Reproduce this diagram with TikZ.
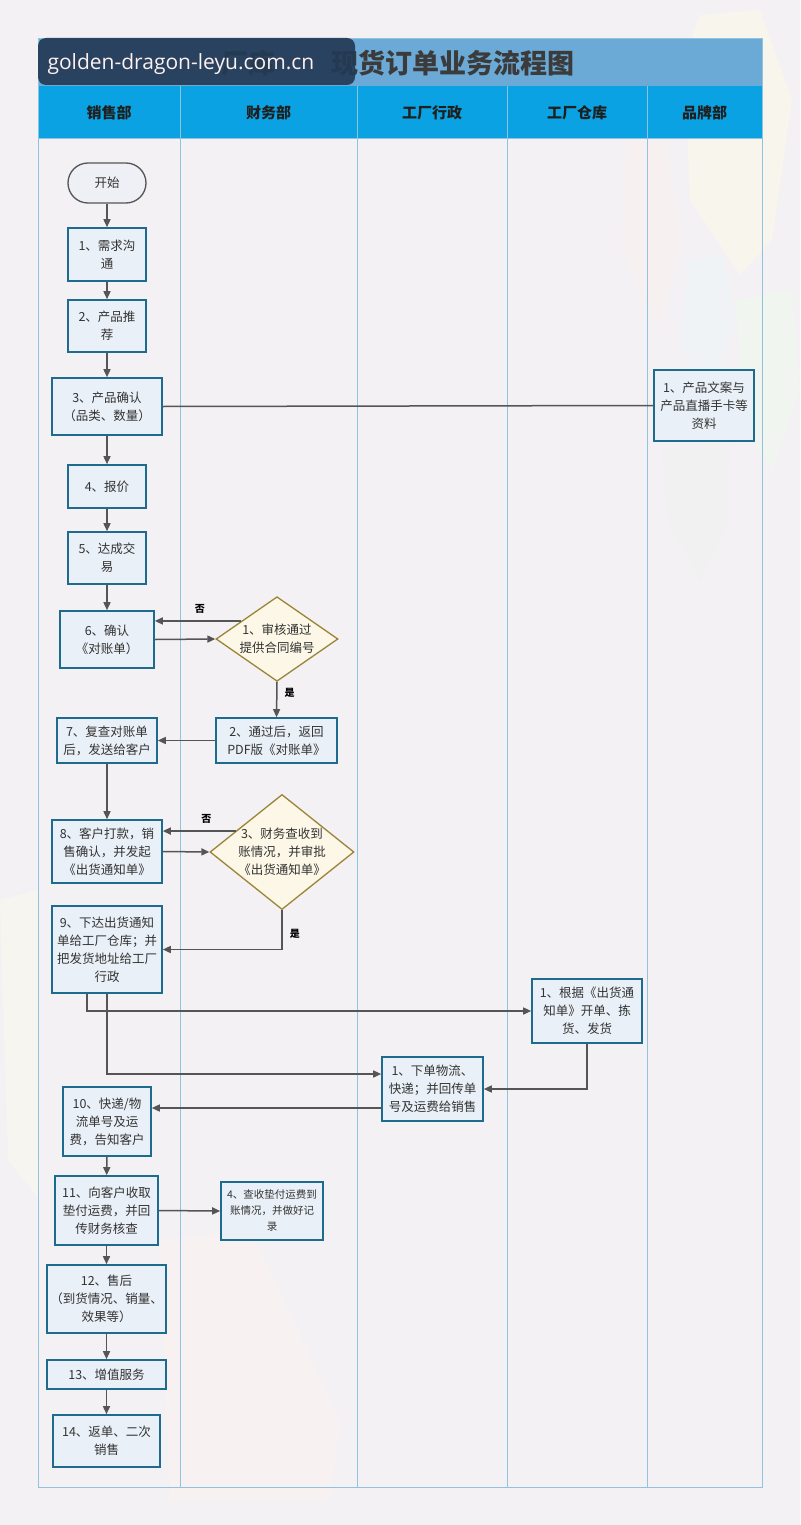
\documentclass[tikz,border=0pt]{standalone}
\usepackage{fontspec}
\setmainfont{Noto Sans CJK SC}
\newfontfamily\wmfont{Open Sans}
\usetikzlibrary{shapes.geometric,calc,arrows.meta}
\definecolor{bgc}{HTML}{F3F1F3}
\definecolor{lanec}{HTML}{8FC3DF}
\definecolor{titlec}{HTML}{6BAAD7}
\definecolor{headc}{HTML}{0AA2E2}
\definecolor{boxfill}{HTML}{EAF0F7}
\definecolor{boxline}{HTML}{1E6B8E}
\definecolor{decfill}{HTML}{FCF7E6}
\definecolor{decline}{HTML}{9B8438}
\definecolor{arrc}{HTML}{555555}
\definecolor{txt}{HTML}{333333}
\definecolor{wmc}{HTML}{233A55}

\begin{document}
\begin{tikzpicture}[x=1pt, y=-1pt,
    box/.style={draw=boxline, line width=1.6pt, fill=boxfill, align=center, text=txt,
                font=\fontsize{12.5}{18}\selectfont, inner sep=1pt},
    term/.style={box, draw=arrc, fill=boxfill!60!bgc, line width=1.3pt, rounded corners=20pt,
                 minimum width=78pt, minimum height=40pt},
    dec/.style={diamond, draw=decline, fill=decfill, line width=1.3pt, align=center, text=txt,
                font=\fontsize{12.5}{18}\selectfont, inner sep=-5pt},
    arr/.style={-{Triangle[length=8pt,width=7pt]}, line width=1.5pt, draw=arrc},
    plain/.style={line width=1.5pt, draw=arrc},
    yn/.style={font=\fontsize{10}{10}\selectfont\bfseries, text=black, inner sep=1pt},
    head/.style={font=\fontsize{15}{15}\selectfont\bfseries, text=black!88},
    deco/.style={fill opacity=0.35}
]
\useasboundingbox (0,0) rectangle (800,1525);
\fill[bgc] (0,0) rectangle (800,1525);

\fill[deco, yellow!12] (700,15) -- (760,10) -- (792,100) -- (772,240) -- (740,275) -- (690,200) -- (684,60) -- cycle;
\fill[deco, red!6] (628,130) -- (665,140) -- (682,240) -- (660,330) -- (622,250) -- cycle;
\fill[deco, cyan!8] (690,260) -- (722,255) -- (736,320) -- (706,400) -- (680,340) -- cycle;
\fill[deco, green!8] (735,300) -- (792,290) -- (800,390) -- (772,470) -- (745,430) -- cycle;
\fill[deco, black!5] (662,450) -- (730,440) -- (726,530) -- (700,580) -- (668,520) -- cycle;
\fill[deco, yellow!8] (0,900) -- (38,890) -- (40,1200) -- (8,1160) -- cycle;
\fill[deco, red!5] (160,1240) -- (250,1230) -- (340,1420) -- (330,1500) -- (170,1500) -- cycle;

\fill[titlec] (38,38) rectangle (762,86);
\fill[headc] (38,86) rectangle (762,138);
\draw[lanec, line width=0.9pt] (38,38) rectangle (762,1487);
\draw[lanec, line width=0.9pt] (38,138) -- (762,138);
\foreach \x in {180,357,507,647}
    \draw[lanec, line width=0.9pt] (\x,86) -- (\x,1487);

\foreach \x/\name/\lab in {109/h1/销售部, 268.5/h2/财务部, 432/h3/工厂行政, 577/h4/工厂仓库, 704.5/h5/品牌部}
    \node[head] (\name) at (\x,113) {\lab};

\node[anchor=west, font=\fontsize{27}{30}\selectfont\bfseries, text=black!77] (tt0) at (218,63) {厂库};
\node[anchor=west, font=\fontsize{27}{30}\selectfont\bfseries, text=black!77] (tt) at (328,63) {现货订单业务流程图};
\fill[wmc, opacity=0.92, rounded corners=8pt] (38,38) rectangle (355,85);
\node[anchor=west, font=\wmfont\fontsize{21}{24}\selectfont, text=red!6] (wm) at (44,64) {golden-dragon-leyu.com.cn};

\node[term] (st) at (107,183) {开始};
\node[box, minimum width=78pt, minimum height=53pt] (s1) at (107,254.5) {1、需求沟\\通};
\node[box, minimum width=78pt, minimum height=52pt] (s2) at (107,326) {2、产品推\\荐};
\node[box, minimum width=110pt, minimum height=57pt] (s3) at (107,406.5) {3、产品确认\\（品类、数量）};
\node[box, minimum width=78pt, minimum height=43pt] (s4) at (107,486.5) {4、报价};
\node[box, minimum width=78pt, minimum height=52pt] (s5) at (107,558) {5、达成交\\易};
\node[box, minimum width=94pt, minimum height=57pt] (s6) at (107,639.5) {6、确认\\《对账单）};
\node[box, minimum width=100pt, minimum height=45pt] (s7) at (107,740.5) {7、复查对账单\\后，发送给客户};
\node[box, minimum width=110pt, minimum height=63pt] (s8) at (107,851.5) {8、客户打款，销\\售确认，并发起\\《出货通知单》};
\node[box, minimum width=110pt, minimum height=87pt] (s9) at (107,949.5) {9、下达出货通知\\单给工厂仓库；并\\把发货地址给工厂\\行政};
\node[box, minimum width=88pt, minimum height=69pt] (s10) at (107,1121.5) {10、快递/物\\流单号及运\\费，告知客户};
\node[box, minimum width=103pt, minimum height=69pt] (s11) at (106.5,1210.5) {11、向客户收取\\垫付运费，并回\\传财务核查};
\node[box, minimum width=119pt, minimum height=68pt] (s12) at (106.5,1299) {12、售后\\（到货情况、销量、\\效果等）};
\node[box, minimum width=119pt, minimum height=29pt] (s13) at (106.5,1374.5) {13、增值服务};
\node[box, minimum width=107pt, minimum height=52pt] (s14) at (106.5,1441) {14、返单、二次\\销售};

\node[dec, minimum width=122pt, minimum height=82pt] (d1) at (277,639) {1、审核通过\\提供合同编号};
\node[box, minimum width=121pt, minimum height=45pt] (f2) at (276.5,740.5) {2、通过后，返回\\PDF版《对账单》};
\node[dec, minimum width=144pt, minimum height=112pt] (d3) at (282,852) {3、财务查收到\\账情况，并审批\\《出货通知单》};
\node[box, minimum width=102pt, minimum height=58pt, font=\fontsize{10.5}{16}\selectfont] (f4) at (272,1211) {4、查收垫付运费到\\账情况，并做好记\\录};
\node[box, minimum width=101pt, minimum height=64pt] (a1) at (432.5,1089) {1、下单物流、\\快递；并回传单\\号及运费给销售};
\node[box, minimum width=110pt, minimum height=64pt] (w1) at (587,1011) {1、根据《出货通\\知单》开单、拣\\货、发货};
\node[box, minimum width=100pt, minimum height=71pt] (b1) at (704,405.5) {1、产品文案与\\产品直播手卡等\\资料};

\foreach \a/\b in {st/s1, s1/s2, s2/s3, s3/s4, s4/s5, s5/s6, s7/s8, s10/s11, s11/s12, s12/s13, s13/s14}
    \draw[arr] (\a) -- (\b);
\draw[plain] (s3.east) -- (b1.west);

\draw[arr] ($(d1.west)!0.42!(d1.north)$) coordinate (n1) -- node[yn, above=6pt, pos=0.48] {否} (n1 -| s6.east);
\draw[arr] (s6.east) -- (d1.west);
\draw[arr] (d1.south) -- node[yn, right=6pt, pos=0.3] {是} (f2.north);
\draw[arr] (f2.west) -- (s7.east);

\draw[arr] ($(d3.west)!0.36!(d3.north)$) coordinate (n3) -- node[yn, above=6pt, pos=0.4] {否} (n3 -| s8.east);
\draw[arr] (s8.east) -- (d3.west);
\draw[arr] (d3.south) |- node[yn, right=6pt, pos=0.3] {是} (s9.east);

\draw[arr] ([xshift=-20pt]s9.south) |- (w1.west);
\draw[arr] (s9.south) |- ([yshift=15pt]a1.west);
\draw[arr] (w1.south) |- (a1.east);
\draw[arr] ([yshift=-19pt]a1.west) coordinate (n5) -- (n5 -| s10.east);
\draw[arr] (s11.east) -- (f4.west);
\end{tikzpicture}
\end{document}
